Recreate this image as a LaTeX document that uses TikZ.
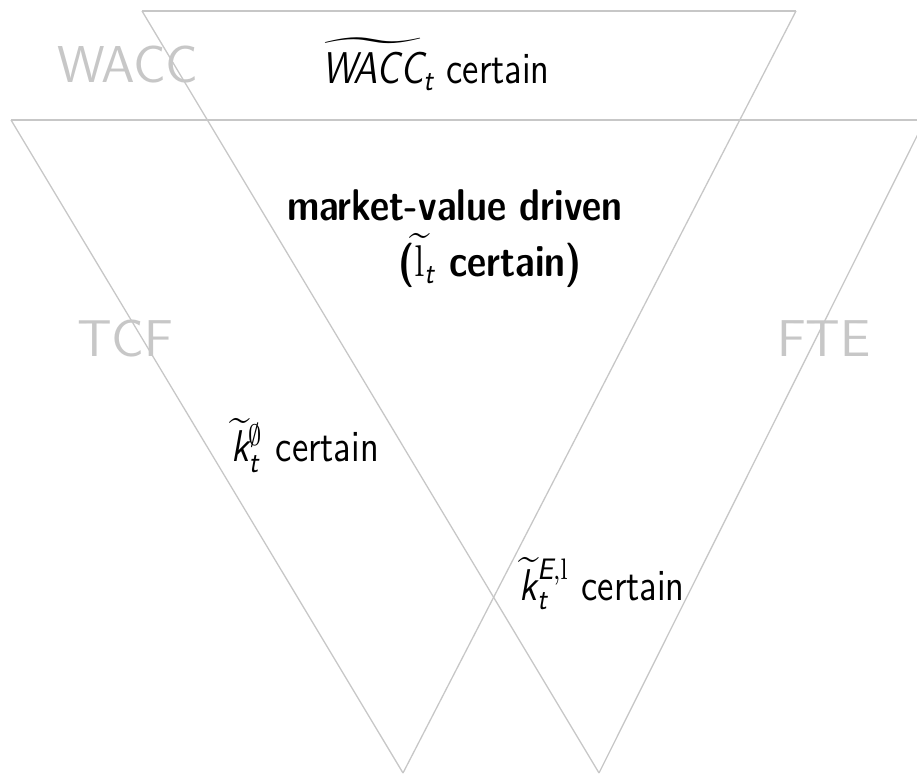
\documentclass[tikz,border=0pt]{standalone}
\usepackage{amsmath}
\usepackage{yhmath}
\usetikzlibrary{positioning}
\tikzset{
  edge/.style={draw=black!22, line width=0.35pt},
  method/.style={text=black!22, font=\sffamily\fontsize{14}{17}\selectfont, inner sep=0pt, anchor=base},
  cond/.style={font=\sffamily\fontsize{12}{14}\selectfont, inner sep=0pt, anchor=base},
  condbf/.style={cond, font=\sffamily\bfseries\fontsize{12}{14}\selectfont}
}
\newcommand{\sit}[1]{\textsf{\mdseries\itshape #1}}
\newcommand{\narrow}[1]{\scalebox{0.84}[1]{#1}}

\begin{document}
\begin{tikzpicture}[x=0.27pt,y=-0.27pt]
\useasboundingbox (0,0) rectangle (917,774);
\clip (0,0) rectangle (917,774);

% corners of the triangles
\coordinate (wl) at (142,11);
\coordinate (wr) at (796,11);
\coordinate (tl) at (11,120);
\coordinate (fr) at (925,120);
\coordinate (ta) at (403,773);
\coordinate (fa) at (599,773);

\draw [edge] (wl) -- (wr);
\draw [edge] (tl) -- (fr);
\draw [edge] (wl) -- (fa);
\draw [edge] (wr) -- (ta);
\draw [edge] (tl) -- (ta);
\draw [edge] (fr) -- (fa);

\node (wacc) [method] at (128,83) {WACC};
\node (tcf) [method] at (125,357) {TCF};
\node (fte) [method] at (824,357) {FTE};

\node (waccc) [cond] at (436,84) {\narrow{$\widetilde{\sit{WACC}}_{\sit{t}}$ certain}};
\node (mvd) [condbf] at (455,221) {\narrow{market-value driven}};
\node (lev) [condbf] at (490,277) {\narrow{($\smash[t]{\widetilde{\mathrm{l}}}_{\sit{t}}$ certain)}};
\node (kzero) [cond] at (305,462) {\narrow{$\smash[t]{\widetilde{\sit{k}}}_{\sit{t}}^{\emptyset}$ certain}};
\node (kel) [cond] at (602,601) {\narrow{$\smash[t]{\widetilde{\sit{k}}}_{\sit{t}}^{\sit{E},\mathrm{l}}$ certain}};

\end{tikzpicture}
\end{document}
